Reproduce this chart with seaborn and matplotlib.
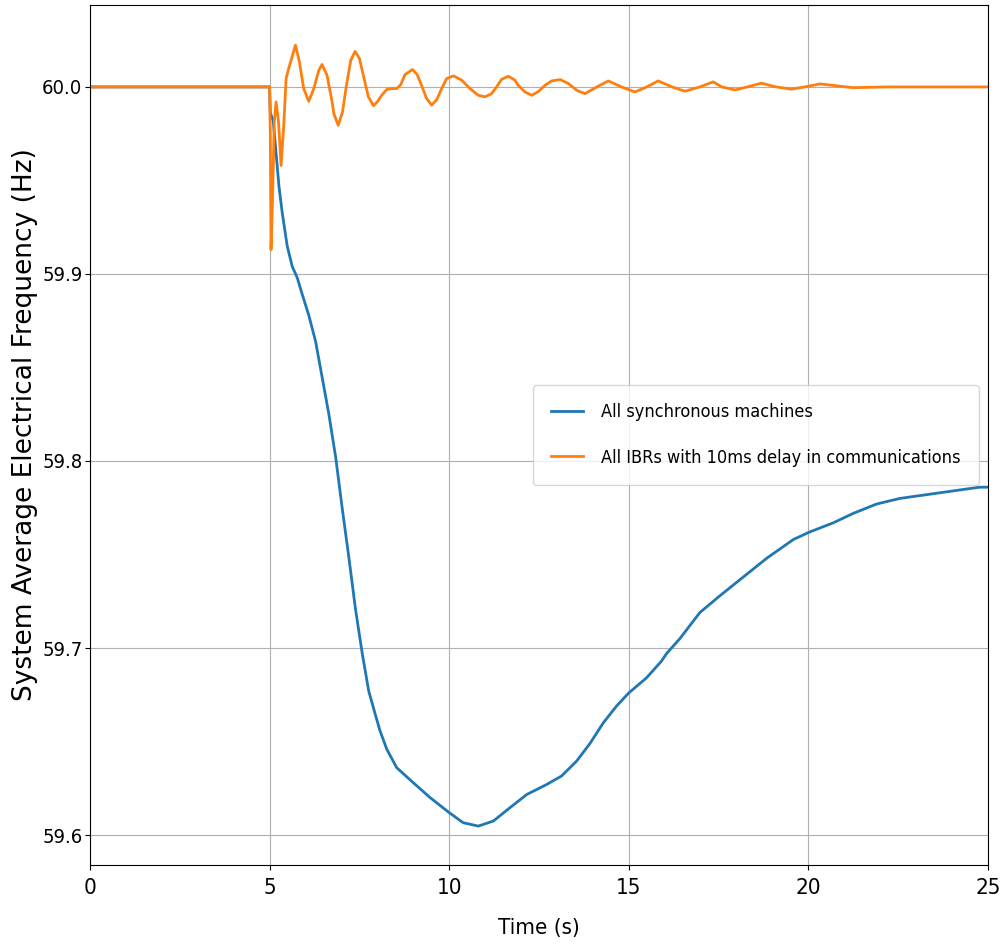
import pandas as pd
import matplotlib
matplotlib.use("Agg")
import matplotlib.pyplot as plt
import seaborn as sns

# values
sync_time = [0.0, 5.0, 5.02, 5.10, 5.17, 5.26, 5.35, 5.49, 5.63, 5.77, 5.91, 6.09, 6.28,
             6.47, 6.65, 6.84, 7.02, 7.21, 7.39, 7.58, 7.76, 7.95, 8.07, 8.26, 8.54,
             9.00, 9.47, 10.0, 10.39, 10.81, 11.23, 11.69, 12.16, 12.71, 13.13, 13.55,
             13.92, 14.29, 14.66, 15.0, 15.49, 15.91, 16.05, 16.42, 16.98, 17.54, 18.19,
             18.84, 19.58, 20.03, 20.70, 21.25, 21.90, 22.55, 23.29, 24.03, 24.77, 25.0]
sync_freq = [60.0, 60.0, 59.986, 59.982, 59.967, 59.947, 59.933, 59.915, 59.904, 59.898,
             59.889, 59.878, 59.864, 59.844, 59.825, 59.802, 59.775, 59.748, 59.721,
             59.697, 59.677, 59.664, 59.656, 59.646, 59.636, 59.628, 59.620, 59.612,
             59.6066, 59.6048, 59.6075, 59.6146, 59.6217, 59.627, 59.6316, 59.6396,
             59.649, 59.660, 59.669, 59.676, 59.684, 59.693, 59.697, 59.705, 59.719,
             59.728, 59.738, 59.748, 59.758, 59.762, 59.767, 59.772, 59.777, 59.780,
             59.782, 59.784, 59.786, 59.786]

ibr_time = [0.0, 5.0, 5.02, 5.04, 5.08, 5.13, 5.18, 5.25, 5.32, 5.39, 5.46, 5.53, 5.61,
            5.72, 5.83, 5.95, 6.09, 6.23, 6.37, 6.46, 6.60, 6.74, 6.79, 6.91, 7.03, 7.14,
            7.26, 7.38, 7.50, 7.61, 7.75, 7.89, 8.00, 8.12, 8.26, 8.40, 8.54, 8.65, 8.77,
            8.98, 9.11, 9.23, 9.37, 9.51, 9.65, 9.79, 9.93, 10.12, 10.35, 10.58, 10.81,
            11.0, 11.18, 11.32, 11.46, 11.65, 11.83, 11.92, 12.11, 12.30, 12.48, 12.67,
            12.85, 13.09, 13.32, 13.55, 13.78, 14.11, 14.43, 14.80, 15.17, 15.50, 15.82,
            16.20, 16.56, 16.98, 17.35, 17.59, 17.96, 18.30, 18.69, 19.10, 19.53, 19.90,
            20.32, 21.24, 22.2, 25.0]
ibr_freq = [60.0, 60.0, 59.974, 59.913, 59.9385, 59.981, 59.992, 59.981, 59.958, 59.978,
            60.0045, 60.0098, 60.015, 60.0223, 60.0134, 59.9991, 59.9923, 59.9991,
            60.0089, 60.012, 60.0062, 59.992, 59.9857, 59.9795, 59.9866, 60.0009,
            60.0143, 60.019, 60.0152, 60.0062, 59.9947, 59.990, 59.992, 59.9955,
            59.9986, 59.9991, 59.9991, 60.0012, 60.0066, 60.0093, 60.0066, 60.0009,
            59.9938, 59.9903, 59.9930, 59.9991, 60.0045, 60.0059, 60.0036, 59.9991,
            59.9955, 59.9947, 59.9964, 60.0, 60.0041, 60.0057, 60.0036, 60.0009,
            59.9973, 59.9955, 59.9975, 60.0009, 60.0032, 60.0039, 60.0018, 59.9982,
            59.9964, 60.0, 60.0032, 60.0, 59.9973, 60.0, 60.0032, 60.0, 59.9977, 60.0,
            60.0027, 60.0, 59.9984, 60.0, 60.002, 60.0, 59.9988, 60.0, 60.0016,
            59.9996, 60.0, 60.0]

series_names = ["All synchronous machines", "All IBRs with 10ms delay in communications"]
x_ticks = [0, 5, 10, 15, 20, 25]
y_ticks = [59.6, 59.7, 59.8, 59.9, 60.0]

df = pd.concat([
    pd.DataFrame({"Time": sync_time, "Freq": sync_freq, "Series": series_names[0]}),
    pd.DataFrame({"Time": ibr_time, "Freq": ibr_freq, "Series": series_names[1]}),
])

plt.rcParams["font.family"] = ["DejaVu Sans"]
plt.rcParams["font.stretch"] = "condensed"

fig = plt.figure(figsize=(10.01, 9.44), dpi=100)
ax = fig.add_axes([0.0899, 0.0837, 0.8971, 0.911])
sns.lineplot(data=df, x="Time", y="Freq", hue="Series", palette=["#1f77b4", "#ff7f0e"],
             estimator=None, sort=False, linewidth=2, ax=ax)

ax.set_xlim(0, 25)
ax.set_ylim(59.584, 60.0438)
ax.set_xticks(x_ticks)
ax.set_yticks(y_ticks)
ax.set_yticklabels([f"{v:.1f}" for v in y_ticks])
ax.tick_params(axis="x", labelsize=16, pad=6)
ax.tick_params(axis="y", labelsize=14.5, pad=2)
ax.grid(True, color="#b0b0b0", linewidth=0.8)
ax.set_xlabel("Time (s)", fontsize=16, labelpad=14)
ax.set_ylabel("System Average Electrical Frequency (Hz)", fontsize=19,
              fontstretch="normal")
ax.yaxis.set_label_coords(-0.058, 0.512)
ax.legend(loc="center right", fontsize=13, title=None, labelspacing=1.5,
          borderpad=1.0, handlelength=1.8, handletextpad=1.0)

fig.savefig("out.png", dpi=100)
